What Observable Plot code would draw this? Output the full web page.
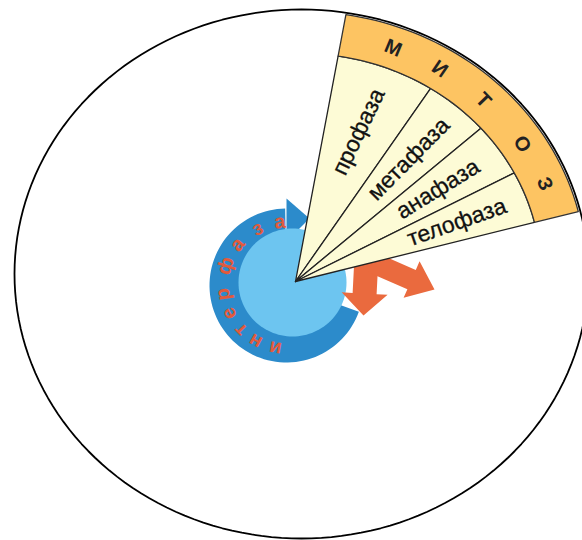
<!DOCTYPE html>
<html><head><meta charset="utf-8">
<script src="https://cdn.jsdelivr.net/npm/d3@7"></script>
<script src="https://cdn.jsdelivr.net/npm/@observablehq/plot@0.6"></script>
<style>body{margin:0;background:#fff} #chart{width:582px;height:540px}</style>
</head><body><div id="chart"></div>
<script>
// ---- data ----
const phases = ["профаза", "метафаза", "анафаза", "телофаза"];
const phaseBounds = [79.3, 55, 39.6, 26.4, 13.9];      // sector boundaries, degrees
const mitosisLetters = ["М", "И", "Т", "О", "З"];
const mitosisAngles = [67.3, 55.8, 44, 31.2, 21.4];
const interLetters = ["и", "н", "т", "е", "р", "ф", "а", "з", "а"];
const interAngles = [260, 241, 224, 206, 188, 162, 140, 117, 96];

// ---- geometry helpers ----
const E = {cx: 301, cy: 273.5, rx: 287, ry: 264.5};
const apex = [295, 281];
const rad = d => d * Math.PI / 180;
function hitEllipse(theta, shrink) {
  const rx = E.rx - shrink, ry = E.ry - shrink;
  const dx = Math.cos(rad(theta)), dy = -Math.sin(rad(theta));
  const px = apex[0] - E.cx, py = apex[1] - E.cy;
  const a = dx*dx/(rx*rx) + dy*dy/(ry*ry);
  const b = 2*(px*dx/(rx*rx) + py*dy/(ry*ry));
  const c = px*px/(rx*rx) + py*py/(ry*ry) - 1;
  return (-b + Math.sqrt(b*b - 4*a*c)) / (2*a);
}
const pt = (theta, r) => ({x: apex[0] + r*Math.cos(rad(theta)), y: apex[1] - r*Math.sin(rad(theta))});
const innerK = 0.845;
function arc(t0, t1, k, shrink, n = 40) {
  const p = [];
  for (let i = 0; i <= n; i++) { const t = t0 + (t1 - t0)*i/n; p.push(pt(t, k*hitEllipse(t, shrink))); }
  return p;
}
const ellipsePts = d3.range(0, 361, 2).map(a => ({x: E.cx + E.rx*Math.cos(rad(a)), y: E.cy + E.ry*Math.sin(rad(a))}));

// interphase ring
const RC = {x: 286, y: 285}, Rout = 77;
const DC = {x: 292, y: 282}, Rdisc = 54;
const ringPts = [{x: RC.x, y: RC.y}].concat(d3.range(-20, -270.1, -3).map(a => ({x: RC.x + Rout*Math.cos(rad(a)), y: RC.y - Rout*Math.sin(rad(a))})));
const headPts = [{x: RC.x, y: RC.y - Rout - 10}, {x: RC.x + 23, y: RC.y - 67}, {x: RC.x, y: RC.y - 44}];
const discPts = d3.range(0, 361, 3).map(a => ({x: DC.x + Rdisc*Math.cos(rad(a)), y: DC.y + Rdisc*Math.sin(rad(a))}));

function arrowPoly(x0, y0, x1, y1, sw, hw, hl) {
  const L = Math.hypot(x1-x0, y1-y0), ux = (x1-x0)/L, uy = (y1-y0)/L, nx = -uy, ny = ux;
  const bx = x1 - ux*hl, by = y1 - uy*hl;
  return [
    {x: x0+nx*sw/2, y: y0+ny*sw/2}, {x: bx+nx*sw/2, y: by+ny*sw/2}, {x: bx+nx*hw/2, y: by+ny*hw/2},
    {x: x1, y: y1},
    {x: bx-nx*hw/2, y: by-ny*hw/2}, {x: bx-nx*sw/2, y: by-ny*sw/2}, {x: x0-nx*sw/2, y: y0-ny*sw/2}];
}
const arrowA = arrowPoly(366, 256, 363, 315, 24, 46, 22);
const arrowB = arrowPoly(372, 262, 434, 289, 21, 40, 25);

const sectors = phases.map((p, i) => [{x: apex[0], y: apex[1]}].concat(arc(phaseBounds[i], phaseBounds[i+1], innerK, 2)));
const band = arc(phaseBounds[0], phaseBounds[4], 1, 2).concat(arc(phaseBounds[4], phaseBounds[0], innerK, 2));

const phaseLabels = phases.map((p, i) => {
  const mid = (phaseBounds[i] + phaseBounds[i+1]) / 2;
  const q = pt(mid, 0.7*innerK*hitEllipse(mid, 2));
  return {text: p, x: q.x, y: q.y, rotate: -mid*0.96};
});
const mitLabels = mitosisLetters.map((l, i) => {
  const q = pt(mitosisAngles[i], 0.922*hitEllipse(mitosisAngles[i], 2));
  return {text: l, x: q.x, y: q.y, rotate: 90 - mitosisAngles[i]};
});
const intLabels = interLetters.map((l, i) => ({
  text: l, x: RC.x + 64*Math.cos(rad(interAngles[i])), y: RC.y - 64*Math.sin(rad(interAngles[i])), rotate: 90 - interAngles[i]
}));

const poly = (data, o) => Plot.line(data, {x: "x", y: "y", curve: "linear-closed", ...o});
const font = "Liberation Sans, Arial, sans-serif";

const chart = Plot.plot({
  width: 582, height: 540, margin: 0,
  x: {domain: [0, 582], range: [0, 582], axis: null},
  y: {domain: [0, 540], range: [0, 540], axis: null},
  style: {background: "#fff"},
  marks: [
    poly(ellipsePts, {stroke: "#000", strokeWidth: 1.8, fill: "none"}),
    poly(ringPts, {fill: "#2C8BCB", stroke: "none"}),
    poly(headPts, {fill: "#2C8BCB", stroke: "none"}),
    poly(discPts, {fill: "#6DC5F0", stroke: "none"}),
    poly(arrowA, {fill: "#EA6A3E", stroke: "none"}),
    poly(arrowB, {fill: "#EA6A3E", stroke: "none"}),
    ...sectors.map(s => poly(s, {fill: "#FDFBD6", stroke: "#222", strokeWidth: 1.3, strokeLinejoin: "round"})),
    poly(band, {fill: "#FDC462", stroke: "#333", strokeWidth: 1.3}),
    Plot.text(phaseLabels, {x: "x", y: "y", text: "text", rotate: "rotate", fontSize: 23, fill: "#111", fontFamily: font, stroke: "#111", strokeWidth: 0.3}),
    Plot.text(mitLabels, {x: "x", y: "y", text: "text", rotate: "rotate", fontSize: 20, fontWeight: "bold", fill: "#222", fontFamily: font}),
    Plot.text(intLabels, {x: "x", y: "y", text: "text", rotate: "rotate", fontSize: 20, fontWeight: "bold", fill: "#E25A3C", fontFamily: font})
  ]
});
document.getElementById("chart").appendChild(chart);
</script></body></html>
